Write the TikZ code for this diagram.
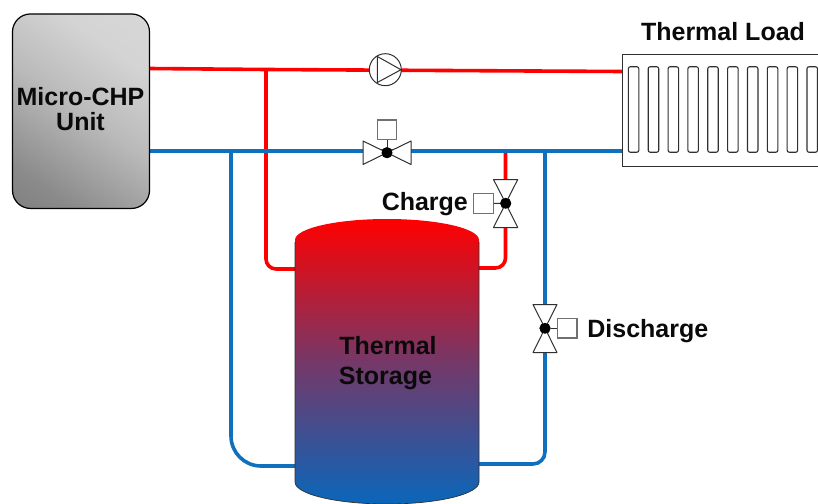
\documentclass[tikz,border=0pt]{standalone}
\usepackage{fontspec}
\usepackage{xcolor}
\setmainfont{Liberation Sans}
\usetikzlibrary{positioning,calc}
\definecolor{PipeRed}{HTML}{FF0000}
\definecolor{PipeBlue}{HTML}{0F70BE}
\definecolor{TankMid}{HTML}{753868}
\definecolor{TankBase}{HTML}{0A66BA}
\definecolor{LineDark}{HTML}{303030}
\definecolor{BoxGrey}{HTML}{707070}
\definecolor{TextDark}{HTML}{0A0A0A}
\pgfdeclarehorizontalshading{chpshade}{100bp}{color(0bp)=(black!55); color(25bp)=(black!46); color(50bp)=(black!27); color(70bp)=(black!17); color(100bp)=(black!14)}
\tikzset{
  redpipe/.style={draw=PipeRed, line width=3.6pt, rounded corners=10pt},
  bluepipe/.style={draw=PipeBlue, line width=3.6pt},
  label/.style={font=\fontsize{25}{30}\selectfont\bfseries, text=TextDark, inner sep=0pt, align=center},
  wing/.style={draw=LineDark, fill=white, line width=1pt, line join=round},
  ctrlbox/.style={draw=BoxGrey, fill=white, line width=1.3pt, minimum size=19.5pt, inner sep=0pt},
  hub/.style={circle, fill=black, minimum size=11pt, inner sep=0pt},
  fin/.style={draw=LineDark, line width=1.1pt, rounded corners=2pt, minimum width=10.5pt, minimum height=85.5pt, inner sep=0pt}
}

\begin{document}
\begin{tikzpicture}[x=1pt,y=-1pt]
  \useasboundingbox (0,0) rectangle (818,503);
  \clip (0,0) rectangle (818,503);

  % pipe ends and joints
  \coordinate (redstart) at (149,68.5);
  \coordinate (redend) at (622,71.5);
  \coordinate (redjoin) at (266,69.5);
  \coordinate (bluestart) at (149,151);
  \coordinate (blueend) at (622,151);
  \coordinate (tankhotl) at (295,269);
  \coordinate (tankhotr) at (479,268);
  \coordinate (tankcoldl) at (295,466);
  \coordinate (tankcoldr) at (479,464);
  \coordinate (coldjoinl) at (231,151);
  \coordinate (coldjoinr) at (545,151);
  \coordinate (chargetop) at (505.5,152);

  \draw[redpipe] (redstart) -- (redjoin) -- (redend);
  \draw[redpipe] (redjoin) -- (266,269) -- (tankhotl);
  \draw[redpipe] (chargetop) -- (505.5,268) -- (tankhotr);
  \draw[bluepipe] (bluestart) -- (blueend);
  \draw[bluepipe, rounded corners=30pt] (coldjoinl) -- (231,466) -- (tankcoldl);
  \draw[bluepipe, rounded corners=12pt] (coldjoinr) -- (545,464) -- (tankcoldr);

  \node[draw=black, line width=1.2pt, rounded corners=18pt, shading=chpshade, shading angle=55,
        minimum width=137pt, minimum height=194.5pt, inner sep=0pt] (chp) at (81,111.2) {};
  \node[label] (chplabel) at (80.5,109.5) {Micro-CHP\\[-5pt]Unit};

  % radiator
  \node[draw=LineDark, fill=white, line width=1.2pt, minimum width=230pt, minimum height=111.5pt,
        inner sep=0pt, anchor=north west] (load) at (622,54) {};
  \foreach \i in {0,...,9}
    \node[fin] (fin\i) at ({633.6+19.85*\i},109.5) {};
  \node[label] (loadlabel) at (723,32) {Thermal Load};

  % storage tank
  \shade[top color=PipeRed, bottom color=TankBase, middle color=TankMid]
    (295,240) arc[start angle=180, end angle=0, x radius=92pt, y radius=21pt]
    -- (479,482) arc[start angle=0, end angle=-180, x radius=92pt, y radius=22pt] -- cycle;
  \draw[draw=LineDark, line width=0.7pt] (479,242) -- (479,482)
    arc[start angle=0, end angle=-180, x radius=92pt, y radius=22pt] -- (295,242);
  \node[label] (tanklabel) at (388,363) {Thermal\\[0pt]Storage\kern5pt\null};

  % pump
  \node[circle, draw=LineDark, fill=white, line width=1pt, minimum size=32pt, inner sep=0pt] (pump) at (385.3,69.7) {};
  \draw[draw=LineDark, line width=1pt, line join=round] (377.3,56.5) -- (401,69.7) -- (377.3,82.5) -- cycle;

  % main valve
  \node[hub] (mainhub) at (387,152.7) {};
  \draw[wing] (mainhub.center) -- (363,141) -- (363,164.5) -- cycle;
  \draw[wing] (mainhub.center) -- (411,141) -- (411,164.5) -- cycle;
  \node[hub] at (mainhub) {};
  \node[ctrlbox, above=7pt of mainhub.north] (mainbox) {};
  \draw[LineDark, line width=1pt] (mainbox) -- (mainhub);

  % charge valve
  \node[hub] (chargehub) at (505.7,203.3) {};
  \draw[wing] (chargehub.center) -- (493.5,179.5) -- (517.7,179.5) -- cycle;
  \draw[wing] (chargehub.center) -- (493.5,227.5) -- (517.7,227.5) -- cycle;
  \node[hub] at (chargehub) {};
  \node[ctrlbox] (chargebox) at (483.5,203.5) {};
  \draw[LineDark, line width=1pt] (chargebox) -- (chargehub);
  \node[label, left=5pt of chargebox.west, yshift=-0.5pt] (chargelabel) {Charge};

  % discharge valve
  \node[hub] (dischub) at (545,328.3) {};
  \draw[wing] (dischub.center) -- (533,304.5) -- (557,304.5) -- cycle;
  \draw[wing] (dischub.center) -- (533,352.5) -- (557,352.5) -- cycle;
  \node[hub] at (dischub) {};
  \node[ctrlbox] (discbox) at (567.3,328.3) {};
  \draw[LineDark, line width=1pt] (discbox) -- (dischub);
  \node[label, right=9.5pt of discbox.east, yshift=-3pt] (disclabel) {Discharge};
\end{tikzpicture}
\end{document}
